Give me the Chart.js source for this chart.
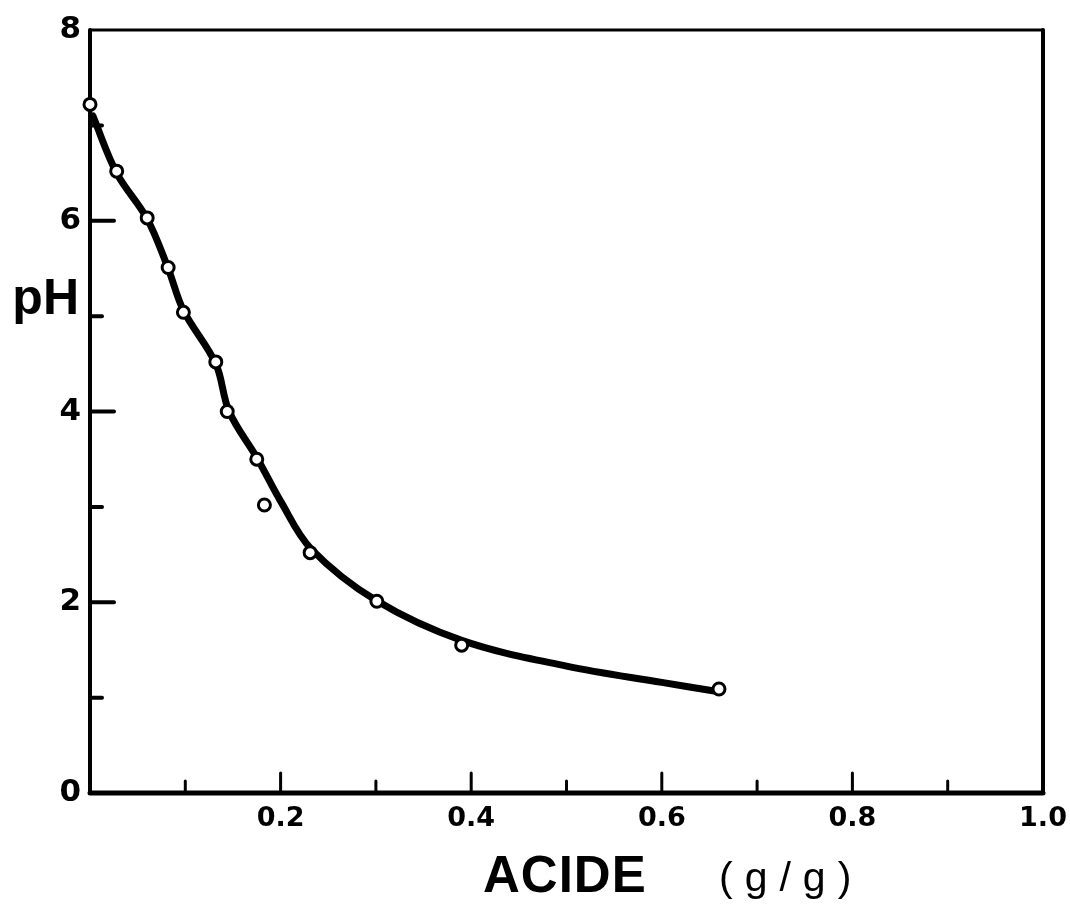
<!DOCTYPE html>
<html>
<head>
<meta charset="utf-8">
<script src="https://cdn.jsdelivr.net/npm/chart.js@4.4.1/dist/chart.umd.min.js"></script>
<style>
  html, body { margin: 0; padding: 0; background: #fff; }
  #wrap { width: 1070px; height: 914px; }
</style>
</head>
<body>
<div id="wrap"><canvas id="c" width="1070" height="914"></canvas></div>
<script>
// measured points: acid (g/g) vs pH
const acidX = [0, 0.028, 0.060, 0.082, 0.098, 0.132, 0.144, 0.175, 0.183, 0.231, 0.301, 0.390, 0.660];
const phY   = [7.22, 6.52, 6.03, 5.51, 5.04, 4.52, 4.00, 3.50, 3.02, 2.52, 2.01, 1.55, 1.09];

// hand-drawn fitted curve
const curveX = [0.003, 0.028, 0.06, 0.082, 0.098, 0.132, 0.146, 0.176, 0.20, 0.232, 0.30, 0.39, 0.50, 0.60, 0.655];
const curveY = [7.10, 6.50, 6.02, 5.50, 5.06, 4.50, 4.00, 3.50, 3.06, 2.56, 2.02, 1.60, 1.33, 1.16, 1.07];

const xLabels = ['0.2', '0.4', '0.6', '0.8', '1.0'];
const yLabels = ['0', '2', '4', '6', '8'];

// box + inward tick marks + axis titles
const frame = {
  id: 'frame',
  beforeDatasetsDraw(chart) {
    const { ctx, chartArea: a, scales: { x, y } } = chart;
    ctx.save();
    ctx.strokeStyle = '#000';
    ctx.lineCap = 'round';
    ctx.lineWidth = 3;
    ctx.beginPath(); ctx.moveTo(a.left, a.top); ctx.lineTo(a.right, a.top); ctx.stroke();
    ctx.lineWidth = 4;
    ctx.beginPath(); ctx.moveTo(a.left, a.top); ctx.lineTo(a.left, a.bottom); ctx.stroke();
    ctx.beginPath(); ctx.moveTo(a.right, a.top); ctx.lineTo(a.right, a.bottom); ctx.stroke();
    ctx.lineWidth = 5;
    ctx.beginPath(); ctx.moveTo(a.left, a.bottom); ctx.lineTo(a.right, a.bottom); ctx.stroke();

    ctx.lineWidth = 4;
    for (let i = 1; i < 8; i++) {
      const py = y.getPixelForValue(i);
      const len = i % 2 === 0 ? 24 : 12;
      ctx.beginPath(); ctx.moveTo(a.left, py); ctx.lineTo(a.left + len, py); ctx.stroke();
    }
    ctx.lineWidth = 3;
    for (let i = 1; i < 10; i++) {
      const px = x.getPixelForValue(i / 10);
      const len = i % 2 === 0 ? 20 : 12;
      ctx.beginPath(); ctx.moveTo(px, a.bottom); ctx.lineTo(px, a.bottom - len); ctx.stroke();
    }

    ctx.fillStyle = '#000';
    ctx.textBaseline = 'alphabetic';
    ctx.font = 'bold 50px "Liberation Sans"';
    ctx.textAlign = 'right';
    ctx.fillText('pH', 79, y.getPixelForValue(5) - 2);

    ctx.textAlign = 'left';
    ctx.font = 'bold 51px "Liberation Sans"';
    ctx.letterSpacing = '1px';
    ctx.fillText('ACIDE', 483, 892);
    ctx.font = '41px "Liberation Sans"';
    ctx.letterSpacing = '12px';
    ctx.fillText('(g/g)', 719, 891);
    ctx.restore();
  }
};

new Chart(document.getElementById('c'), {
  type: 'scatter',
  data: {
    datasets: [
      {
        label: 'points',
        data: acidX.map((v, i) => ({ x: v, y: phY[i] })),
        pointRadius: 6,
        pointBorderWidth: 3,
        pointBorderColor: '#000',
        pointBackgroundColor: '#fff',
        showLine: false,
        clip: false,
        order: 0
      },
      {
        label: 'curve',
        data: curveX.map((v, i) => ({ x: v, y: curveY[i] })),
        showLine: true,
        borderColor: '#000',
        borderWidth: 7,
        borderCapStyle: 'round',
        pointRadius: 0,
        tension: 0.35,
        order: 1
      }
    ]
  },
  options: {
    responsive: false,
    animation: false,
    layout: { padding: { left: 0, top: 30, right: 27, bottom: 0 } },
    plugins: { legend: { display: false }, tooltip: { enabled: false } },
    scales: {
      x: {
        type: 'linear', min: 0, max: 1,
        grid: { display: false, drawTicks: false },
        border: { display: false },
        afterFit: s => { s.height = 121; s.paddingLeft = 0; s.paddingRight = 0; },
        ticks: {
          stepSize: 0.1, padding: 10, color: '#000', maxRotation: 0, autoSkip: false,
          font: { family: 'DejaVu Sans', size: 27, weight: 'bold' },
          callback: v => { const k = Math.round(v * 10); return k > 0 && k % 2 === 0 ? xLabels[k / 2 - 1] : ''; }
        }
      },
      y: {
        type: 'linear', min: 0, max: 8,
        grid: { display: false, drawTicks: false },
        border: { display: false },
        afterFit: s => { s.width = 90; s.paddingTop = 0; s.paddingBottom = 0; },
        ticks: {
          stepSize: 1, padding: 9, color: '#000', autoSkip: false,
          font: { family: 'DejaVu Sans', size: 31, weight: 'bold' },
          callback: v => (v % 2 === 0 ? yLabels[v / 2] : '')
        }
      }
    }
  },
  plugins: [frame]
});
</script>
</body>
</html>
